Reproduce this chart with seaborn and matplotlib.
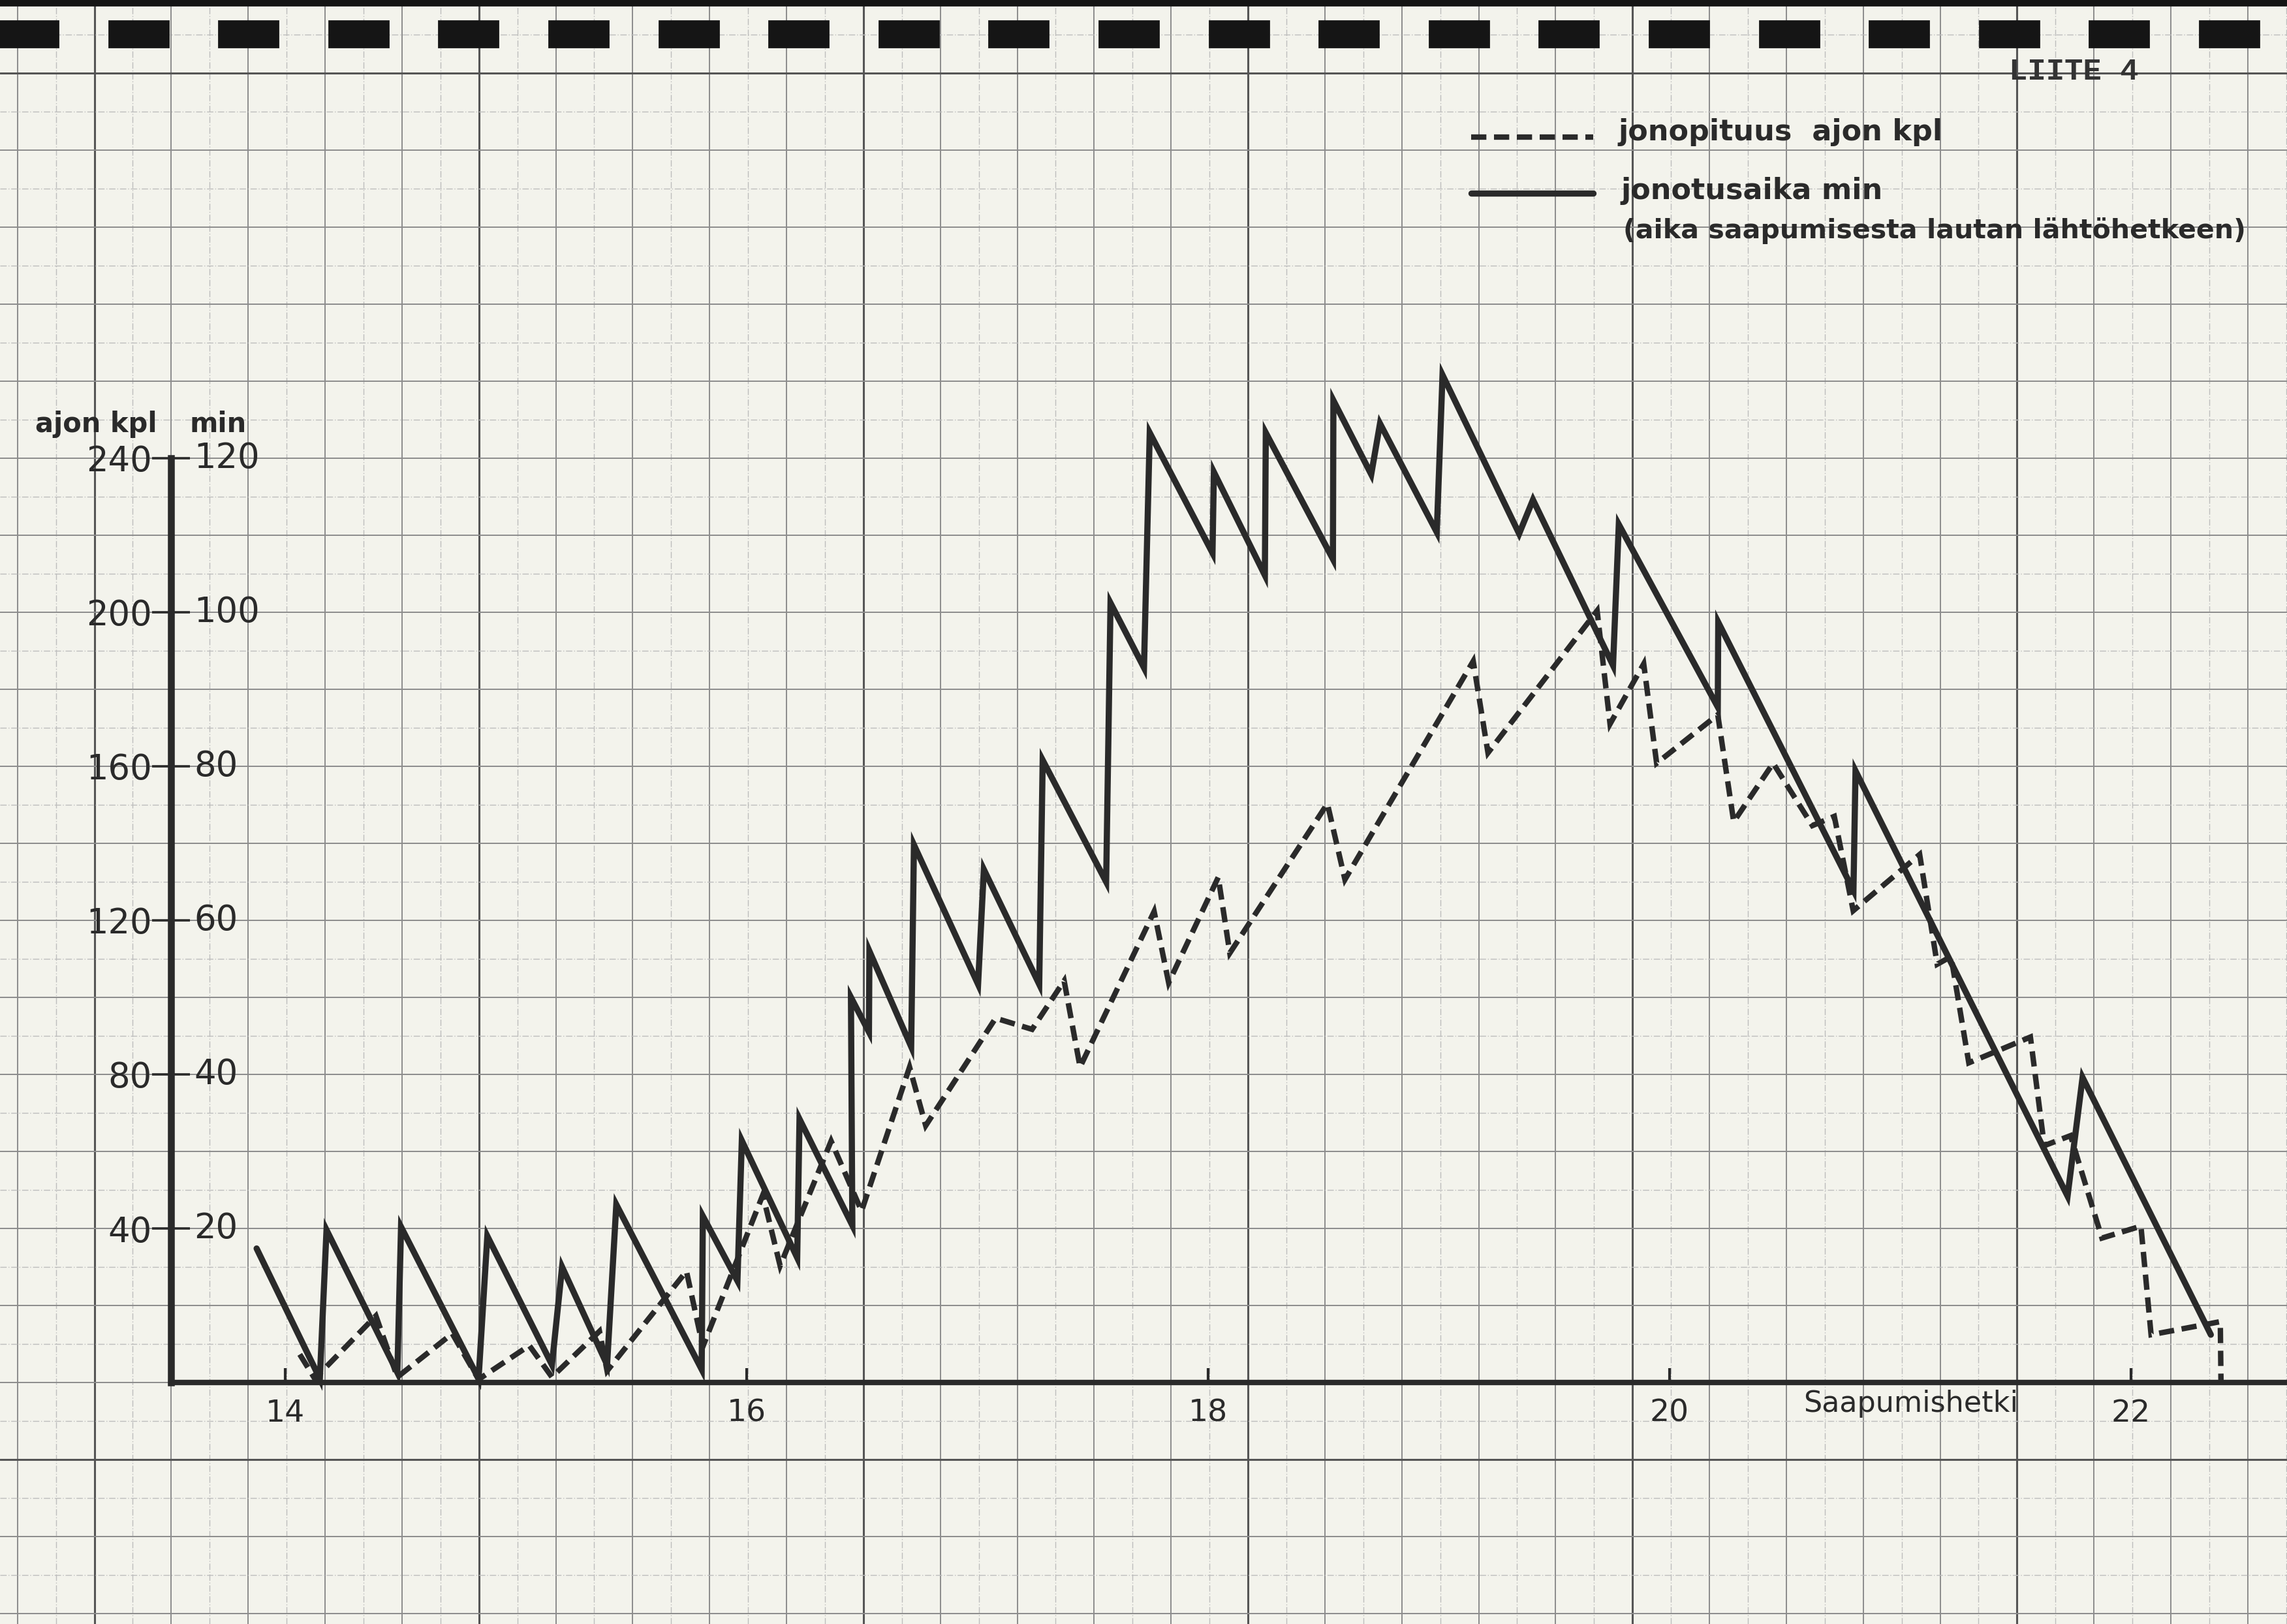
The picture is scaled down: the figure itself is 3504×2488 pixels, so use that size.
import numpy as np
import pandas as pd
import seaborn as sns
import matplotlib.pyplot as plt
from matplotlib.patches import Rectangle
from matplotlib.lines import Line2D

# jonotusaika min (solid), arrival time in hours
aika_t = [13.876, 14.150, 14.179, 14.486, 14.502, 14.838, 14.876, 15.156, 15.200,
          15.395, 15.435, 15.805, 15.810, 15.960, 15.979, 16.219, 16.229, 16.458,
          16.452, 16.530, 16.532, 16.713, 16.725, 17.003, 17.028, 17.268, 17.283,
          17.558, 17.577, 17.722, 17.747, 18.019, 18.025, 18.246, 18.250, 18.541,
          18.543, 18.707, 18.745, 18.991, 19.016, 19.348, 19.408, 19.755, 19.780,
          20.209, 20.211, 20.797, 20.806, 21.725, 21.790, 22.346]
aika_min = [17.4, 0.5, 19.8, 1.3, 20.2, 0.5, 19.0, 2.3, 15.0,
            2.3, 23.1, 1.7, 21.6, 13.2, 31.4, 16.2, 34.2, 20.4,
            50.0, 45.5, 56.0, 43.6, 69.8, 51.7, 66.6, 51.7, 80.8,
            65.0, 101.2, 92.8, 123.3, 107.7, 118.2, 104.8, 123.3, 106.9,
            127.5, 117.9, 124.5, 110.4, 130.8, 110.2, 114.6, 93.1, 111.4,
            87.7, 98.7, 63.9, 79.4, 24.2, 39.6, 6.2]

# jonopituus ajon kpl (dashed)
jono_t = [14.063, 14.128, 14.393, 14.486, 14.724, 14.838, 15.058, 15.156, 15.362,
          15.395, 15.739, 15.810, 16.070, 16.145, 16.366, 16.498, 16.706, 16.776,
          17.079, 17.237, 17.376, 17.445, 17.766, 17.829, 18.044, 18.094, 18.517,
          18.593, 19.149, 19.213, 19.686, 19.742, 19.888, 19.944, 20.209, 20.278,
          20.449, 20.619, 20.714, 20.796, 21.084, 21.160, 21.220, 21.297, 21.564,
          21.624, 21.738, 21.874, 22.043, 22.087, 22.387, 22.390]
jono_kpl = [7.3, 1.0, 17.3, 1.4, 12.7, 0.8, 9.6, 1.4, 13.3,
            3.0, 28.9, 9.3, 48.7, 30.3, 62.7, 44.5, 81.9, 66.7,
            94.6, 91.7, 104.3, 81.9, 122.3, 103.8, 131.2, 111.5, 150.3,
            130.6, 187.3, 163.5, 200.4, 171.0, 186.6, 160.8, 173.4, 145.6,
            160.8, 144.6, 147.0, 122.5, 137.1, 108.6, 110.6, 83.0, 89.7,
            61.5, 64.1, 37.5, 40.6, 12.4, 15.8, 0.0]

kpl_ticks = [40, 80, 120, 160, 200, 240]
min_ticks = [20, 40, 60, 80, 100, 120]
hour_ticks = [14, 16, 18, 20, 22]

W, H = 3504, 2488
paper = "#f3f3ec"
ink = "#2a2a2a"

sns.set_theme(style="white")
plt.rcParams["font.family"] = ["DejaVu Sans"]

fig = plt.figure(figsize=(W / 200, H / 200), dpi=200, facecolor=paper)
ax = fig.add_axes([0, 0, 1, 1])
ax.set_facecolor(paper)

# sheet mapping: 14 h at x=437 px, 353.5 px/hour; 0 cars at y=2118 px, 5.9 px/car
x0, px_h = 437, 353.5
y0, px_k = 2118, 5.9
xlim = (14 - x0 / px_h, 14 + (W - x0) / px_h)
ylim = (-(H - y0) / px_k, y0 / px_k)
t_axis = 14 + (262 - x0) / px_h

# graph paper
t_heavy = 16.506
for k in range(-24, 40):
    t = t_heavy + k / 6
    if not xlim[0] < t < xlim[1]:
        continue
    if k % 10 == 0:
        ax.axvline(t, color="#555555", lw=1.1, zorder=0)
    elif k % 2 == 0:
        ax.axvline(t, color="#8c8c8c", lw=0.7, zorder=0)
    else:
        ax.axvline(t, color="#bdbdbd", lw=0.5, ls=(0, (7, 2, 1, 2)), zorder=0)
for v in range(-60, 360, 10):
    if v in (-20, 340):
        ax.axhline(v, color="#555555", lw=1.1, zorder=0)
    elif v % 20 == 0:
        ax.axhline(v, color="#8c8c8c", lw=0.7, zorder=0)
    else:
        ax.axhline(v, color="#bdbdbd", lw=0.5, ls=(0, (7, 2, 1, 2)), zorder=0)

df_jono = pd.DataFrame({"aika": jono_t, "kpl": jono_kpl})
df_min = pd.DataFrame({"aika": aika_t, "min": aika_min})

sns.lineplot(data=df_jono, x="aika", y="kpl", sort=False, estimator=None, ax=ax,
             color=ink, lw=3.0, linestyle=(0, (2.8, 1.4)),
             dash_joinstyle="miter", dash_capstyle="butt", zorder=3)

ax2 = ax.twinx()
sns.lineplot(data=df_min, x="aika", y="min", sort=False, estimator=None, ax=ax2,
             color=ink, lw=3.4, solid_joinstyle="miter", zorder=3)

ax.set_xlim(xlim)
ax.set_ylim(ylim)
ax2.set_xlim(xlim)
ax2.set_ylim(ylim[0] / 2, ylim[1] / 2)
ax2.axis("off")
ax.set_xlabel("")
ax.set_ylabel("")

for s in ["top", "right"]:
    ax.spines[s].set_visible(False)
ax.spines["left"].set_position(("data", t_axis))
ax.spines["left"].set_bounds(0, 240)
ax.spines["left"].set_linewidth(3.8)
ax.spines["left"].set_color(ink)
ax.spines["bottom"].set_position(("data", 0))
ax.spines["bottom"].set_bounds(t_axis, xlim[1])
ax.spines["bottom"].set_linewidth(3.0)
ax.spines["bottom"].set_color(ink)
ax.spines["left"].set_zorder(4)
ax.spines["bottom"].set_zorder(4)

ax.set_yticks(kpl_ticks)
ax.set_yticklabels([str(v) for v in kpl_ticks])
ax.tick_params(axis="y", direction="inout", length=21, width=1.3, color=ink,
               labelsize=19, labelcolor=ink, pad=0, left=True)
ax.set_xticks(hour_ticks)
ax.set_xticklabels([str(h) for h in hour_ticks])
ax.tick_params(axis="x", direction="in", length=8, width=1.5, color=ink,
               labelsize=17, labelcolor=ink, pad=9, bottom=True)

t_min = 14 + (297 - x0) / px_h
for kv, mv in zip(kpl_ticks, min_ticks):
    ax.text(t_min, kv, str(mv), ha="left", va="center", fontsize=19, color=ink)

fig.text(241 / W, 1 - 650 / H, "ajon kpl", ha="right", va="center",
         fontsize=15, fontweight="bold", color=ink)
fig.text(290 / W, 1 - 650 / H, "min", ha="left", va="center",
         fontsize=15, fontweight="bold", color=ink)
fig.text(2928 / W, 1 - 2150 / H, "Saapumishetki", ha="center", va="center",
         fontsize=16, color=ink)

# perforation strip along the top edge
fig.add_artist(Rectangle((0, 1 - 8 / H), 1, 8 / H, transform=fig.transFigure,
                         color="#151515", zorder=5))
for k in range(21):
    fig.add_artist(Rectangle(((-2 + 168.6 * k) / W, 1 - 72 / H), 91 / W, 40 / H,
                             transform=fig.transFigure, color="#151515", zorder=5))

fig.text(3177 / W, 1 - 110 / H, "LIITE 4", ha="center", va="center",
         family="Liberation Mono", fontweight="bold", fontsize=17, color="#333333")

# legend drawn by hand
fig.add_artist(Line2D([2254 / W, 2441 / W], [1 - 210 / H] * 2, transform=fig.transFigure,
                      color=ink, lw=3.0, ls=(0, (2.8, 1.4)), dash_capstyle="butt"))
fig.add_artist(Line2D([2254 / W, 2441 / W], [1 - 296 / H] * 2, transform=fig.transFigure,
                      color=ink, lw=3.4))
fig.text(2479 / W, 1 - 202 / H, "jonopituus  ajon kpl", ha="left", va="center",
         fontsize=16, fontweight="bold", color=ink)
fig.text(2483 / W, 1 - 292 / H, "jonotusaika min", ha="left", va="center",
         fontsize=16, fontweight="bold", color=ink)
fig.text(2487 / W, 1 - 353 / H, "(aika saapumisesta lautan lähtöhetkeen)", ha="left",
         va="center", fontsize=14.8, fontweight="bold", color=ink)

fig.savefig("out.png", dpi=200, facecolor=paper)
